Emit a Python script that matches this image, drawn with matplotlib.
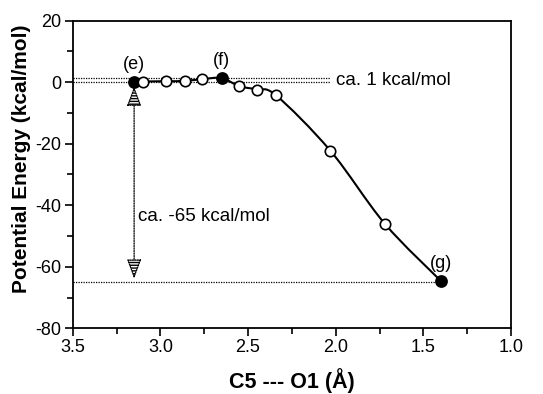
#!/usr/bin/env python3
"""Potential energy profile along C5---O1 distance."""

import matplotlib
matplotlib.use("Agg")
import matplotlib.pyplot as plt
import numpy as np
from matplotlib.path import Path
from matplotlib.patches import PathPatch

plt.rcParams["font.family"] = ["Liberation Sans", "DejaVu Sans"]
plt.rcParams["axes.unicode_minus"] = False
plt.rcParams["hatch.linewidth"] = 1.0

# data
dist = [3.15, 3.10, 2.97, 2.86, 2.76, 2.65, 2.55, 2.45, 2.34, 2.03, 1.72, 1.40]
energy = [0.0, 0.2, 0.3, 0.4, 1.0, 1.3, -1.3, -2.4, -4.3, -22.3, -46.0, -64.6]
filled = [True, False, False, False, False, True, False, False, False, False, False, True]
point_labels = {0: "(e)", 5: "(f)", 11: "(g)"}

barrier = 1.3
drop = -65.0


def smooth_path(xs, ys):
    # Catmull-Rom through the points, drawn as cubic Bezier segments
    pts = np.column_stack([xs, ys])
    verts = [pts[0]]
    codes = [Path.MOVETO]
    n = len(pts)
    for i in range(n - 1):
        p0 = pts[i - 1] if i > 0 else pts[i]
        p1, p2 = pts[i], pts[i + 1]
        p3 = pts[i + 2] if i + 2 < n else pts[i + 1]
        c1 = p1 + (p2 - p0) / 6
        c2 = p2 - (p3 - p1) / 6
        verts += [c1, c2, p2]
        codes += [Path.CURVE4] * 3
    return Path(verts, codes)


fig = plt.figure(figsize=(5.43, 3.94), dpi=100)
ax = fig.add_axes([0.134, 0.1667, 0.807, 0.781])

ax.add_patch(PathPatch(smooth_path(dist, energy), fc="none", ec="black", lw=1.5, zorder=3))

for x, y, f in zip(dist, energy, filled):
    ax.plot(x, y, "o", ms=8 if f else 7.5, mfc="black" if f else "white",
            mec="black", mew=1.2, zorder=4)

for i, lab in point_labels.items():
    ax.text(dist[i], energy[i] + 3.0, lab, ha="center", va="bottom", fontsize=13)

# dotted reference lines
dot = dict(color="black", lw=0.9, ls=(0, (1, 1)), zorder=2)
ax.plot([3.5, 2.03], [0, 0], **dot)
ax.plot([3.5, 2.03], [barrier, barrier], **dot)
ax.plot([3.5, dist[-1]], [drop, drop], **dot)
ax.text(2.00, 0.6, "ca. 1 kcal/mol", ha="left", va="center", fontsize=13.5)

ax.annotate("", xy=(dist[0], -1.5), xytext=(dist[0], drop + 1.2),
            arrowprops=dict(arrowstyle="<|-|>,head_length=1.2,head_width=0.45",
                            ls=(0, (1, 1)), lw=0.9, fc="white", ec="black",
                            hatch="------", shrinkA=0, shrinkB=0))
ax.text(3.125, -43.5, "ca. -65 kcal/mol", ha="left", va="center", fontsize=13.5)

ax.set_xlim(3.5, 1.0)
ax.set_ylim(-80, 20)
ax.set_xticks(np.arange(3.5, 0.99, -0.5))
ax.set_xticks(np.arange(3.25, 1.0, -0.5), minor=True)
ax.set_yticks(np.arange(-80, 21, 20))
ax.set_yticks(np.arange(-70, 20, 20), minor=True)
ax.set_xticklabels([f"{v:.1f}" for v in np.arange(3.5, 0.99, -0.5)])
ax.tick_params(which="both", direction="out", labelsize=13, width=1.2)
ax.tick_params(which="major", length=6, pad=2)
ax.tick_params(which="minor", length=4)
for s in ax.spines.values():
    s.set_linewidth(1.3)

ax.set_xlabel("C5 --- O1 (Å)", fontsize=15.5, fontweight="bold", labelpad=8)
ax.set_ylabel("Potential Energy (kcal/mol)", fontsize=15, fontweight="bold")
ax.yaxis.set_label_coords(-0.095, 0.55)

fig.savefig("out.png", dpi=100)
